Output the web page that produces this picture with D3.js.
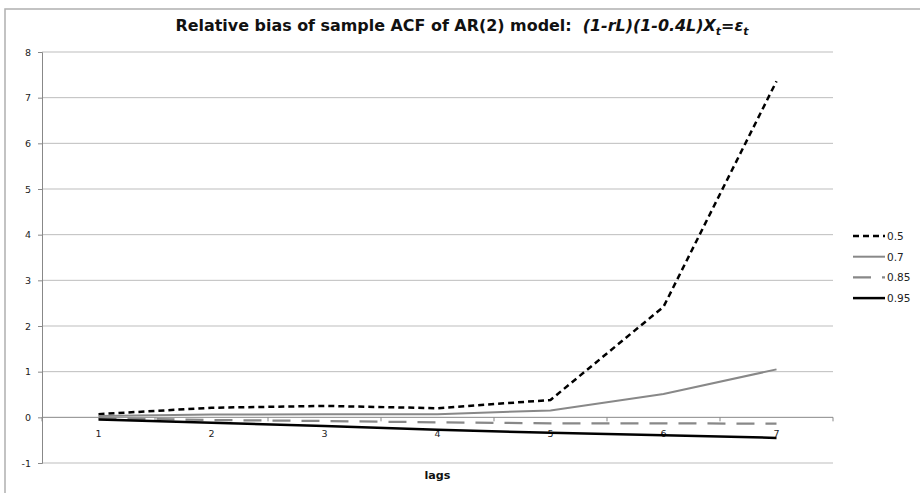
<!DOCTYPE html>
<html>
<head>
<script src="https://d3js.org/d3.v7.min.js"></script>
<style>
  body { margin: 0; background: #fff; }
  text { font-family: "DejaVu Sans", Verdana, sans-serif; }
</style>
</head>
<body>
<svg id="chart" width="920" height="493"></svg>

<script>
// lags on the x axis
var lags = [1, 2, 3, 4, 5, 6, 7];
var yTicks = [-1, 0, 1, 2, 3, 4, 5, 6, 7, 8];

// relative bias for each value of r
var seriesNames = ["0.5", "0.7", "0.85", "0.95"];
var r05  = [0.07, 0.21, 0.25, 0.20, 0.38, 2.42, 7.36];
var r07  = [0.03, 0.06, 0.07, 0.07, 0.15, 0.51, 1.05];
var r085 = [-0.02, -0.06, -0.08, -0.11, -0.13, -0.13, -0.14];
var r095 = [-0.05, -0.12, -0.19, -0.27, -0.34, -0.39, -0.45];

var styles = [
  { color: "#000",    width: 2.5,  dash: "6,4" },
  { color: "#888",    width: 2,    dash: null },
  { color: "#888",    width: 2.25, dash: "18,11" },
  { color: "#000",    width: 2.5,  dash: null }
];
var allValues = [r05, r07, r085, r095];

var svg = d3.select("#chart");

// outer chart border
svg.append("rect")
  .attr("x", 5).attr("y", 9)
  .attr("width", 930).attr("height", 500)
  .attr("fill", "none").attr("stroke", "#b0b0b0").attr("stroke-width", 1.5);

var pLeft = 42, pRight = 833, pTop = 52, pBottom = 463;

var x = d3.scaleBand().domain(lags).range([pLeft, pRight]);
var y = d3.scaleLinear().domain([-1, 8]).range([pBottom, pTop]);
var cx = function(d) { return x(d) + x.bandwidth() / 2; };

// gridlines
svg.append("g").selectAll("line")
  .data(yTicks.filter(function(d) { return d !== 0; }))
  .join("line")
  .attr("x1", pLeft).attr("x2", pRight)
  .attr("y1", function(d) { return y(d); }).attr("y2", function(d) { return y(d); })
  .attr("stroke", "#bdbdbd").attr("stroke-width", 1);

// y axis (plain hyphen for the negative label, like the original)
var yAxis = svg.append("g")
  .attr("transform", "translate(" + pLeft + ",0)")
  .call(d3.axisLeft(y).tickValues(yTicks).tickSize(4).tickPadding(7).tickFormat(function(d) { return String(d); }));
yAxis.select(".domain").attr("stroke", "#888");
yAxis.selectAll(".tick line").attr("stroke", "#888");
yAxis.selectAll("text").attr("font-size", 9.5).attr("fill", "#222");

// x axis sits at y = 0, ticks at band boundaries
var xg = svg.append("g").attr("transform", "translate(0," + y(0) + ")");
xg.append("line").attr("x1", pLeft).attr("x2", pRight).attr("stroke", "#888").attr("stroke-width", 1);
xg.selectAll(".bnd")
  .data(lags.map(function(d) { return x(d); }).concat([pRight]))
  .join("line")
  .attr("x1", function(d) { return d; }).attr("x2", function(d) { return d; })
  .attr("y1", 0).attr("y2", 4)
  .attr("stroke", "#888");
xg.selectAll(".lbl")
  .data(lags)
  .join("text")
  .attr("x", cx).attr("y", 20)
  .attr("text-anchor", "middle")
  .attr("font-size", 9.5).attr("fill", "#222")
  .text(function(d) { return d; });

// lines
var line = d3.line()
  .x(function(d, i) { return cx(lags[i]); })
  .y(function(d) { return y(d); });

allValues.forEach(function(vals, i) {
  svg.append("path")
    .datum(vals)
    .attr("d", line)
    .attr("fill", "none")
    .attr("stroke", styles[i].color)
    .attr("stroke-width", styles[i].width)
    .attr("stroke-dasharray", styles[i].dash);
});

// legend
var leg = svg.append("g").selectAll("g")
  .data(seriesNames)
  .join("g")
  .attr("transform", function(d, i) { return "translate(853," + (236 + i * 20.7) + ")"; });
leg.append("line")
  .attr("x1", 0).attr("x2", 32).attr("y1", 0).attr("y2", 0)
  .attr("stroke", function(d, i) { return styles[i].color; })
  .attr("stroke-width", function(d, i) { return styles[i].width; })
  .attr("stroke-dasharray", function(d, i) { return styles[i].dash; });
leg.append("text")
  .attr("x", 34).attr("y", 4)
  .attr("font-size", 10.5).attr("fill", "#222")
  .text(function(d) { return d; });

// axis title
svg.append("text")
  .attr("x", (pLeft + pRight) / 2).attr("y", 479)
  .attr("text-anchor", "middle")
  .attr("font-family", "'DejaVu Sans Condensed', 'DejaVu Sans', sans-serif")
  .attr("font-weight", "bold").attr("font-size", 11).attr("fill", "#111")
  .attr("textLength", 26).attr("lengthAdjust", "spacingAndGlyphs")
  .text("lags");

// chart title
var title = svg.append("text")
  .attr("x", 462).attr("y", 31)
  .attr("text-anchor", "middle")
  .style("white-space", "pre")
  .attr("font-family", "'DejaVu Sans Condensed', 'DejaVu Sans', sans-serif")
  .attr("font-weight", "bold").attr("font-size", 16).attr("fill", "#111")
  .attr("textLength", 573).attr("lengthAdjust", "spacingAndGlyphs");
title.append("tspan").text("Relative bias of sample ACF of AR(2) model:  ");
title.append("tspan").attr("font-style", "italic").text("(1-rL)(1-0.4L)X");
title.append("tspan").attr("font-style", "italic").attr("font-size", 11).attr("dy", 4).text("t");
title.append("tspan").attr("font-style", "italic").attr("dy", -4).text("=ε");
title.append("tspan").attr("font-style", "italic").attr("font-size", 11).attr("dy", 4).text("t");
</script>
</body>
</html>
